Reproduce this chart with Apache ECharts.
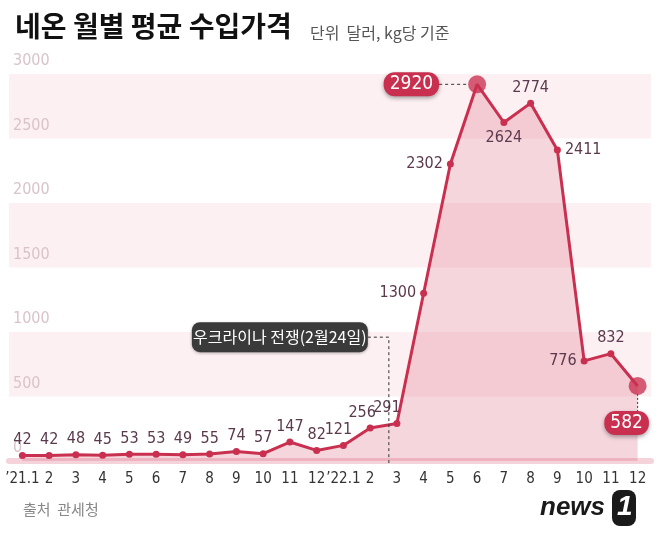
<!DOCTYPE html>
<html><head><meta charset="utf-8">
<script src="https://cdn.jsdelivr.net/npm/echarts@6/dist/echarts.min.js"></script>
<style>html,body{margin:0;padding:0;background:#fff}#c{width:658px;height:533px}</style>
</head><body><div id="c"></div>
<script>
const categories = ['’21.1','2','3','4','5','6','7','8','9','10','11','12','’22.1','2','3','4','5','6','7','8','9','10','11','12'];
const prices = [42,42,48,45,53,53,49,55,74,57,147,82,121,256,291,1300,2302,2920,2624,2774,2411,776,832,582];
const yTicks = [0,500,1000,1500,2000,2500,3000];
const warLabel = '우크라이나 전쟁(2월24일)';
const warPos = 13.7;      // position between Feb and Mar 2022 (category index units)
const warLevel = 960;     // height of the annotation box
const peakIndex = 17;
const lastIndex = 23;

const RED = '#c9304f';
const NARROW = '"Liberation Sans Narrow","DejaVu Sans Condensed","Roboto",sans-serif';
const KR = '"Noto Sans CJK KR","Noto Sans",sans-serif';

const labelPos = {15:'left',16:'left',18:'bottom',20:'right',21:'left'};
const labelOffset = {12:[-5,0],13:[-8,0],14:[-10,0]};

const seriesData = prices.map((v,i)=>{
  const d = {value:v};
  if (labelPos[i] || labelOffset[i]) {
    d.label = {};
    if (labelPos[i]) d.label.position = labelPos[i];
    if (labelOffset[i]) d.label.offset = labelOffset[i];
  }
  if (i===peakIndex || i===lastIndex) {
    d.symbolSize = 18;
    d.itemStyle = {color:'rgba(201,48,79,0.78)'};
    d.label = {
      position: i===peakIndex ? 'left' : 'bottom',
      distance: i===peakIndex ? 29 : 16,
      offset: i===peakIndex ? [0,0] : [-11,0],
      backgroundColor: RED, borderRadius: 11, padding:[3,6,2,6],
      color:'#fff', fontSize:19, fontFamily: NARROW,
      shadowBlur:4, shadowColor:'rgba(0,0,0,0.35)', shadowOffsetY:2
    };
  }
  return d;
});

const chart = echarts.init(document.getElementById('c'));
const option = {
  animation:false,
  backgroundColor:'#fff',
  title:[
    {text:'네온 월별 평균 수입가격', left:10, top:7, textStyle:{fontFamily:KR, fontSize:28, fontWeight:'bold', color:'#111'}},
    {text:'단위  달러, kg당 기준', left:305, top:20, textStyle:{fontFamily:KR, fontSize:16, fontWeight:'normal', color:'#555'}},
    {text:'출처  관세청', left:18, top:497, textStyle:{fontFamily:KR, fontSize:15, fontWeight:'normal', color:'#888'}}
  ],
  grid:{left:9, right:7, top:74, bottom:72},
  xAxis:[{
    type:'category', data:categories, boundaryGap:true,
    axisLine:{show:true, lineStyle:{color:'#f4d3da', width:6}},
    axisTick:{show:false},
    axisLabel:{color:'#333', fontSize:15, fontFamily:NARROW, margin:11, interval:0}
  },{
    type:'value', min:-0.5, max:23.5, show:false
  }],
  yAxis:{
    type:'value', min:0, max:3000, interval:500,
    axisLine:{show:false}, axisTick:{show:false},
    splitLine:{show:false},
    splitArea:{show:true, areaStyle:{color:['rgba(255,255,255,0)','#fdf0f3']}},
    axisLabel:{inside:true, margin:4, verticalAlign:'bottom', padding:[0,0,5,0], color:'#d8c3c9', fontSize:16, fontFamily:NARROW,
      formatter:v=> yTicks.includes(v) ? String(v) : ''}
  },
  series:[{
    type:'line', data:seriesData, xAxisIndex:0,
    symbol:'circle', symbolSize:7,
    lineStyle:{color:RED, width:3},
    itemStyle:{color:RED},
    areaStyle:{color:'rgba(214,62,96,0.3)', origin:'start'},
    label:{show:true, position:'top', distance:4, color:'#5a3a4c', fontSize:16, fontFamily:NARROW},
    z:3
  }]
};
chart.setOption(option);

function px(x,y){ return chart.convertToPixel({xAxisIndex:1, yAxisIndex:0}, [x,y]); }
const war = px(warPos, warLevel);
const base = px(warPos, 0);
const peak = px(peakIndex, prices[peakIndex]);
const last = px(lastIndex, prices[lastIndex]);
const boxW = 176, boxH = 30;
const boxRight = war[0]-21;

chart.setOption({graphic:[
  {type:'polyline', z:10, shape:{points:[[boxRight,war[1]],[war[0],war[1]],[war[0],base[1]+2]]},
   style:{stroke:'#333', lineWidth:1, lineDash:[3,3], fill:null}},
  {type:'rect', z:11, shape:{x:boxRight-boxW, y:war[1]-boxH/2, width:boxW, height:boxH, r:8},
   style:{fill:'#3a3a3a', shadowBlur:3, shadowColor:'rgba(0,0,0,0.3)', shadowOffsetY:1}},
  {type:'text', z:12, x:boxRight-boxW/2, y:war[1],
   style:{text:warLabel, fill:'#fff', font:'16px '+KR, align:'center', verticalAlign:'middle'}},
  {type:'line', z:10, shape:{x1:peak[0]-38, y1:peak[1], x2:peak[0]-8, y2:peak[1]},
   style:{stroke:'#333', lineWidth:1, lineDash:[3,3]}},
  {type:'line', z:1, shape:{x1:last[0], y1:last[1]+8, x2:last[0], y2:last[1]+26},
   style:{stroke:'#333', lineWidth:1, lineDash:[2,2]}},
  {type:'group', right:22, top:490, children:[
    {type:'text', x:0, y:0, style:{text:'news', font:'italic 900 26px "Liberation Sans","DejaVu Sans",sans-serif', fill:'#1a1a1a'}},
    {type:'rect', x:72, y:-5, shape:{width:24, height:36, r:8}, style:{fill:'#1a1a1a'}},
    {type:'text', x:77, y:-2, style:{text:'1', font:'italic 900 28px "Liberation Sans",sans-serif', fill:'#fff'}}
  ]}
]});
</script></body></html>
